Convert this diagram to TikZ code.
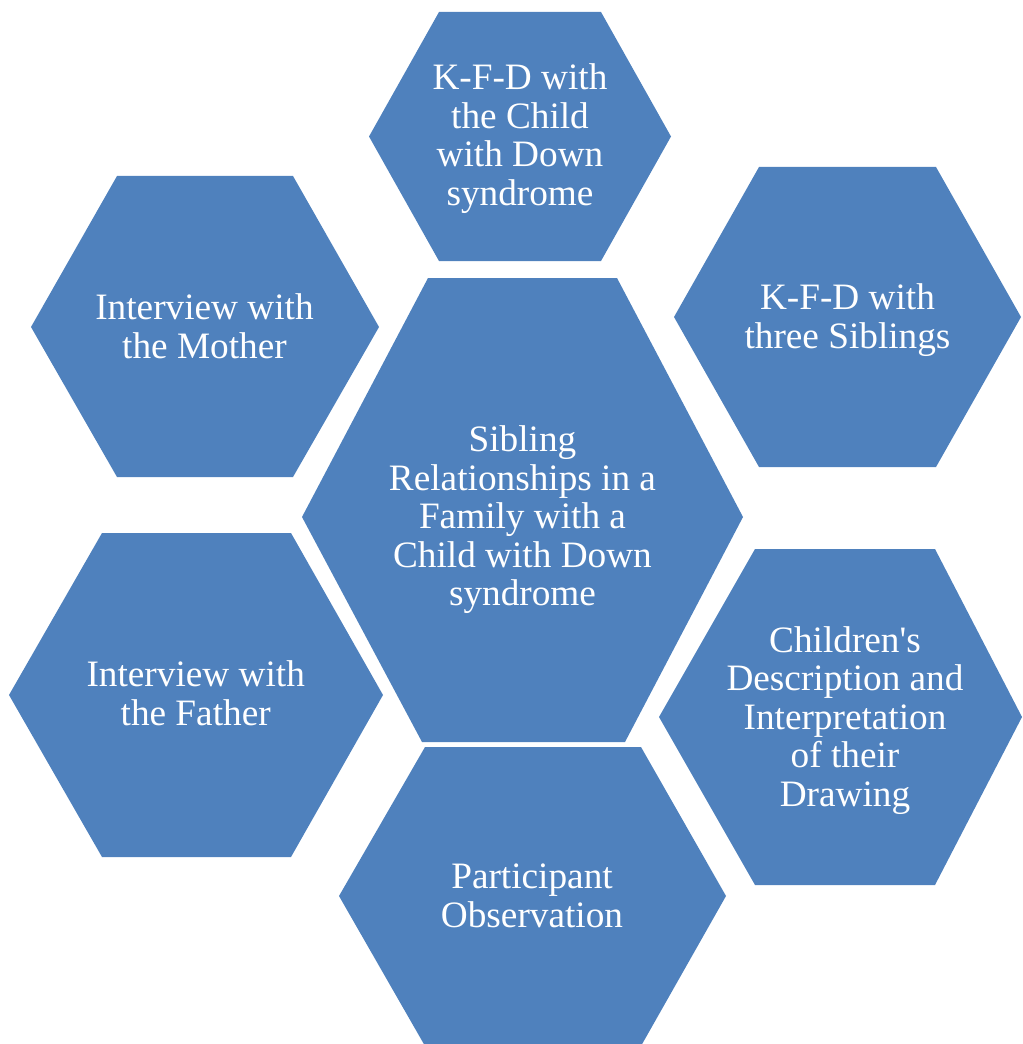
\documentclass[tikz,border=0pt]{standalone}
\usepackage{fontspec}
\setmainfont{Liberation Serif}
\definecolor{hexblue}{RGB}{79,129,189}

\begin{document}
\begin{tikzpicture}[x=0.025cm,y=-0.025cm]
\useasboundingbox (0,0) rectangle (1022,1044);
\begin{scope}[every path/.style={fill=hexblue}]
    \fill (439,12) -- (601,12) -- (671,136.5) -- (601,261) -- (439,261) -- (369,136.5) -- cycle;
    \fill (117,176) -- (293,176) -- (379,327) -- (293,477) -- (117,477) -- (31,327) -- cycle;
    \fill (759,167) -- (936,167) -- (1021,317) -- (936,467) -- (759,467) -- (674,317) -- cycle;
    \fill (428,278) -- (617,278) -- (743,517) -- (625,742) -- (422,742) -- (302,517) -- cycle;
    \fill (102,533) -- (291,533) -- (383,695) -- (291,857) -- (102,857) -- (9,695) -- cycle;
    \fill (755,549) -- (935,549) -- (1022,717) -- (935,885) -- (755,885) -- (659,717) -- cycle;
    \fill (425,747) -- (641,747) -- (726,896) -- (641,1046) -- (425,1046) -- (339,896) -- cycle;
\end{scope}
\begin{scope}[every node/.style={text=white,align=center,inner sep=0pt,
              font=\fontsize{26.5}{27.4}\selectfont}]
    \node (kfdchild) at (520,138.5) {K-F-D with\\the Child\\with Down\\syndrome};
    \node (mother) at (204.5,326) {Interview with\\the Mother};
    \node (kfdsiblings) at (847.5,320) {K-F-D with\\three Siblings};
    \node (centre) at (522.5,520) {Sibling\\Relationships in a\\Family with a\\Child with Down\\syndrome};
    \node (father) at (195.7,693.5) {Interview with\\the Father};
    \node (drawing) at (845,720.5) {Children\textquotesingle s\\Description and\\Interpretation\\of their\\Drawing};
    \node (observation) at (532,896) {Participant\\Observation};
\end{scope}
\end{tikzpicture}
\end{document}
